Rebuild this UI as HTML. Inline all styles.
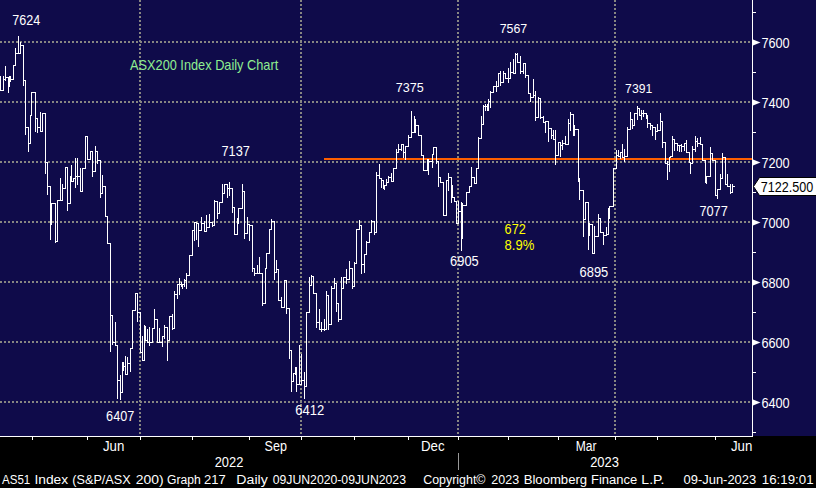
<!DOCTYPE html>
<html><head><meta charset="utf-8">
<style>
html,body{margin:0;padding:0;background:#000;width:816px;height:488px;overflow:hidden}
svg{display:block}
text{font-family:"Liberation Sans",sans-serif}
</style></head><body>
<svg width="816" height="488" viewBox="0 0 816 488">
<rect x="0" y="0" width="816" height="488" fill="#000"/>
<rect x="0" y="0" width="816" height="436" fill="#0f0b4a"/>
<g shape-rendering="crispEdges">
<line x1="0" y1="42" x2="752" y2="42" stroke="#878682" stroke-width="2" stroke-dasharray="2 2"/>
<line x1="0" y1="102" x2="752" y2="102" stroke="#878682" stroke-width="2" stroke-dasharray="2 2"/>
<line x1="0" y1="162" x2="752" y2="162" stroke="#878682" stroke-width="2" stroke-dasharray="2 2"/>
<line x1="0" y1="222" x2="752" y2="222" stroke="#878682" stroke-width="2" stroke-dasharray="2 2"/>
<line x1="0" y1="282" x2="752" y2="282" stroke="#878682" stroke-width="2" stroke-dasharray="2 2"/>
<line x1="0" y1="342" x2="752" y2="342" stroke="#878682" stroke-width="2" stroke-dasharray="2 2"/>
<line x1="0" y1="402" x2="752" y2="402" stroke="#878682" stroke-width="2" stroke-dasharray="2 2"/>
<line x1="140" y1="0" x2="140" y2="436" stroke="#878682" stroke-width="2" stroke-dasharray="2 2"/>
<line x1="301" y1="0" x2="301" y2="436" stroke="#878682" stroke-width="2" stroke-dasharray="2 2"/>
<line x1="458" y1="0" x2="458" y2="436" stroke="#878682" stroke-width="2" stroke-dasharray="2 2"/>
<line x1="615" y1="0" x2="615" y2="436" stroke="#878682" stroke-width="2" stroke-dasharray="2 2"/>
</g>
<rect x="324" y="158" width="428" height="2" fill="#ff5f00"/>
<path d="M0.5 75.5V90.5H3.5V75.5V79.5H5.5V65.5V80.5V77.5H8.5V92.5V86.5H9.5V76.5H10.5V81.5V79.5H13.5V64.5V65.5H15.5V47.5V53.5H18.5V35.5V53.5H20.5V41.5V45.5H23.5V85.5V80.5H25.5V134.5V127.5H28.5V151.5V143.5H30.5V115.5H31.5V92.5H35.5V131.5V118.5H37.5V132.5V127.5H40.5V111.5V131.5H42.5V113.5H45.5V173.5V162.5H47.5V194.5V186.5H50.5V239.5V207.5H51.5V224.5V203.5H55.5V242.5V241.5H57.5V200.5H60.5V177.5V200.5H62.5V183.5V194.5V188.5H65.5V167.5H67.5V210.5V203.5H70.5V176.5H71.5V164.5V181.5H73.5V178.5H75.5V187.5V173.5H75.5V157.5V184.5V176.5H77.5V157.5V184.5V176.5H80.5V167.5V191.5H82.5V168.5H85.5V136.5H87.5V159.5H90.5V151.5H92.5V176.5V171.5H95.5V145.5V151.5H97.5V163.5V160.5H100.5V197.5V193.5H102.5V174.5V186.5H105.5V216.5H107.5V243.5H110.5V351.5V315.5H112.5V344.5V342.5H115.5V321.5V345.5H117.5V398.5V380.5H120.5V374.5V399.5V392.5H122.5V362.5H123.5V370.5V366.5H125.5V355.5V374.5H127.5V356.5V374.5V363.5H130.5V348.5V371.5V348.5H132.5V310.5H135.5V293.5H137.5V321.5V312.5H140.5V352.5H142.5V335.5V360.5H144.5V324.5V340.5H145.5V325.5V340.5H147.5V328.5V342.5H149.5V326.5V345.5V342.5H152.5V328.5H154.5V308.5V319.5H157.5V342.5H159.5V327.5V342.5H162.5V346.5V336.5H164.5V324.5V338.5V327.5H167.5V360.5V340.5H169.5V316.5H172.5V313.5V329.5V328.5H174.5V290.5V294.5H177.5V284.5V298.5V284.5H179.5V277.5V294.5V284.5H181.5V281.5V286.5H182.5V284.5V288.5V284.5H184.5V278.5V286.5V280.5H186.5V272.5V288.5V275.5H189.5V255.5H192.5V230.5H194.5V240.5V222.5H196.5V239.5V223.5H198.5V246.5V230.5H201.5V216.5V223.5H204.5V220.5V231.5H206.5V214.5V227.5H209.5V213.5V222.5H212.5V226.5V225.5H214.5V199.5V201.5H217.5V218.5V213.5H219.5V202.5H222.5V183.5V193.5H224.5V183.5V184.5H227.5V197.5V188.5H229.5V181.5V195.5V188.5H232.5V212.5V207.5H234.5V234.5H237.5V218.5H238.5V223.5V208.5H242.5V183.5V191.5H244.5V238.5V233.5H247.5V216.5V224.5H249.5V240.5V225.5H252.5V271.5V268.5H254.5V275.5V273.5H257.5V264.5V273.5H259.5V256.5V273.5H262.5V305.5V303.5H265.5V268.5H266.5V253.5H269.5V229.5H271.5V218.5V221.5H274.5V279.5V272.5H276.5V259.5V269.5H278.5V300.5H281.5V296.5V307.5H284.5V280.5H286.5V313.5V308.5H289.5V358.5V350.5H291.5V391.5V381.5H293.5V373.5H295.5V374.5V367.5H296.5V391.5V384.5H299.5V344.5V384.5H301.5V353.5V380.5H304.5V371.5V398.5V386.5H306.5V312.5H309.5V276.5V285.5H311.5V274.5V285.5V276.5H313.5V293.5H316.5V327.5V322.5H319.5V308.5V329.5H321.5V321.5V331.5V329.5H324.5V318.5V330.5V329.5H326.5V290.5V295.5H328.5V329.5V324.5H331.5V285.5V288.5H334.5V277.5V283.5H336.5V311.5V303.5H338.5V321.5V319.5H341.5V276.5V288.5H343.5V276.5V277.5H346.5V268.5V283.5V279.5H349.5V260.5V268.5H352.5V288.5V286.5H354.5V261.5V263.5H356.5V229.5H359.5V219.5V225.5H361.5V273.5V264.5H364.5V272.5V254.5H366.5V240.5V248.5V242.5H369.5V232.5V242.5V232.5H371.5V219.5V221.5H374.5V234.5V232.5H376.5V171.5V175.5H379.5V163.5V178.5H381.5V187.5V180.5H383.5V188.5H384.5V189.5V185.5H386.5V178.5V182.5H388.5V175.5V177.5H391.5V172.5V181.5H393.5V168.5H396.5V148.5V152.5H398.5V143.5V149.5H401.5V150.5V144.5H403.5V157.5V152.5H405.5V159.5V146.5H408.5V134.5V137.5H411.5V110.5V132.5H414.5V115.5V132.5H415.5V118.5V125.5H418.5V135.5H421.5V155.5H423.5V170.5H427.5V159.5H428.5V174.5V161.5H432.5V167.5V154.5H433.5V147.5H436.5V163.5V161.5H438.5V186.5V177.5H440.5V182.5H443.5V215.5H446.5V180.5H448.5V172.5V190.5V177.5H451.5V202.5V185.5H452.5V195.5V197.5H454.5V201.5H456.5V223.5H458.5V200.5V219.5V211.5H461.5V201.5V250.5V238.5H462.5V202.5V205.5H466.5V192.5H469.5V186.5H471.5V166.5V177.5H474.5V183.5H476.5V168.5H478.5V161.5V136.5V138.5H481.5V115.5V124.5H483.5V104.5V110.5V106.5H485.5V103.5V110.5V106.5H487.5V103.5V110.5H488.5V98.5V101.5H490.5V90.5V107.5V92.5H493.5V85.5V86.5H496.5V80.5V91.5V86.5H498.5V73.5V73.5H500.5V70.5V85.5V82.5H503.5V70.5V73.5H505.5V78.5H508.5V67.5V82.5V78.5H510.5V61.5V72.5H513.5V58.5V73.5H515.5V52.5V54.5H517.5V52.5V62.5H520.5V55.5V73.5V71.5H523.5V62.5V73.5V63.5H525.5V77.5V75.5H528.5V93.5H530.5V101.5V97.5H533.5V78.5V95.5H535.5V90.5V120.5V117.5H538.5V96.5V98.5H540.5V118.5V117.5H543.5V115.5V122.5H545.5V120.5V132.5V121.5H548.5V141.5V128.5H551.5V138.5V135.5H553.5V129.5V139.5H555.5V129.5V164.5V155.5H558.5V141.5V142.5H560.5V141.5V156.5V145.5H562.5V139.5V149.5V143.5H565.5V135.5V144.5H568.5V118.5V123.5H570.5V111.5V130.5V114.5H573.5V135.5H574.5V124.5V129.5H578.5V181.5H579.5V177.5V199.5V190.5H583.5V236.5V219.5H585.5V202.5H588.5V249.5V223.5H589.5V235.5V224.5H592.5V253.5H594.5V225.5V236.5H598.5V213.5V218.5H600.5V232.5H603.5V244.5V235.5H606.5V226.5V234.5H608.5V208.5H609.5V218.5V207.5V206.5H613.5V185.5V168.5H616.5V149.5V155.5H618.5V149.5V156.5H620.5V151.5V158.5V152.5H622.5V143.5V157.5H624.5V148.5V161.5V156.5H627.5V126.5V129.5H630.5V111.5V119.5H632.5V128.5V125.5H634.5V113.5H637.5V105.5V119.5V108.5H639.5V115.5H641.5V109.5V119.5V113.5H643.5V109.5V116.5V113.5H646.5V118.5V115.5H647.5V127.5V123.5H650.5V129.5V125.5H652.5V135.5V127.5H655.5V139.5V131.5H657.5V123.5V130.5H660.5V112.5V121.5H662.5V147.5V142.5H665.5V162.5V163.5H667.5V160.5V179.5V164.5H669.5V162.5V171.5V157.5H670.5V156.5H672.5V135.5V139.5H674.5V150.5V143.5H677.5V150.5V145.5H679.5V151.5V145.5H681.5V143.5V151.5V146.5H684.5V144.5V150.5V143.5H686.5V139.5V152.5H689.5V162.5H690.5V173.5V163.5H692.5V145.5V149.5H695.5V135.5V151.5V141.5H697.5V137.5V146.5V143.5H700.5V136.5V144.5H702.5V160.5H705.5V182.5V176.5H706.5V183.5V176.5H710.5V146.5V153.5H712.5V158.5V160.5H715.5V195.5H717.5V198.5V189.5H720.5V173.5V178.5H722.5V152.5V157.5H725.5V184.5H727.5V173.5V186.5H730.5V183.5V193.5V192.5H732.5V183.5V186.5H734.5V186.5" fill="none" stroke="#fff" stroke-width="1" shape-rendering="crispEdges"/>
<rect x="752" y="0" width="1" height="437" fill="#fff"/>
<rect x="0" y="436" width="753" height="1" fill="#fff"/>
<polygon points="753,39.5 760.5,42.5 753,45.5" fill="#fff"/>
<polygon points="753,99.5 760.5,102.5 753,105.5" fill="#fff"/>
<polygon points="753,159.5 760.5,162.5 753,165.5" fill="#fff"/>
<polygon points="753,219.5 760.5,222.5 753,225.5" fill="#fff"/>
<polygon points="753,279.5 760.5,282.5 753,285.5" fill="#fff"/>
<polygon points="753,339.5 760.5,342.5 753,345.5" fill="#fff"/>
<polygon points="753,399.5 760.5,402.5 753,405.5" fill="#fff"/>
<rect x="753" y="12" width="3" height="1" fill="#fff"/>
<rect x="753" y="72" width="3" height="1" fill="#fff"/>
<rect x="753" y="132" width="3" height="1" fill="#fff"/>
<rect x="753" y="192" width="3" height="1" fill="#fff"/>
<rect x="753" y="252" width="3" height="1" fill="#fff"/>
<rect x="753" y="312" width="3" height="1" fill="#fff"/>
<rect x="753" y="372" width="3" height="1" fill="#fff"/>
<rect x="753" y="432" width="3" height="1" fill="#fff"/>
<rect x="32" y="437" width="1" height="3" fill="#fff"/>
<rect x="87" y="437" width="1" height="3" fill="#fff"/>
<rect x="140" y="437" width="1" height="3" fill="#fff"/>
<rect x="192" y="437" width="1" height="3" fill="#fff"/>
<rect x="249" y="437" width="1" height="3" fill="#fff"/>
<rect x="301" y="437" width="1" height="3" fill="#fff"/>
<rect x="354" y="437" width="1" height="3" fill="#fff"/>
<rect x="408" y="437" width="1" height="3" fill="#fff"/>
<rect x="458" y="437" width="1" height="3" fill="#fff"/>
<rect x="508" y="437" width="1" height="3" fill="#fff"/>
<rect x="558" y="437" width="1" height="3" fill="#fff"/>
<rect x="615" y="437" width="1" height="3" fill="#fff"/>
<rect x="657" y="437" width="1" height="3" fill="#fff"/>
<rect x="715" y="437" width="1" height="3" fill="#fff"/>
<rect x="458" y="453" width="1" height="17" fill="#999"/>
<polygon points="753.5,186.5 759.5,177.5 822,177.5 822,195.5 759.5,195.5" fill="#fff" stroke="#000" stroke-width="1"/>
<text x="130.00" y="70.20" textLength="148.27" lengthAdjust="spacingAndGlyphs" style="font-size:14.17px;fill:#90ee90">ASX200 Index Daily Chart</text>
<text x="12.29" y="24.90" textLength="27.99" lengthAdjust="spacingAndGlyphs" style="font-size:13.89px;fill:#fff">7624</text>
<text x="221.48" y="156.00" textLength="28.40" lengthAdjust="spacingAndGlyphs" style="font-size:13.89px;fill:#fff">7137</text>
<text x="395.78" y="91.50" textLength="27.98" lengthAdjust="spacingAndGlyphs" style="font-size:13.61px;fill:#fff">7375</text>
<text x="499.69" y="33.00" textLength="27.57" lengthAdjust="spacingAndGlyphs" style="font-size:13.61px;fill:#fff">7567</text>
<text x="625.10" y="93.10" textLength="27.15" lengthAdjust="spacingAndGlyphs" style="font-size:13.61px;fill:#fff">7391</text>
<text x="106.09" y="421.00" textLength="28.20" lengthAdjust="spacingAndGlyphs" style="font-size:13.89px;fill:#fff">6407</text>
<text x="295.27" y="415.00" textLength="29.00" lengthAdjust="spacingAndGlyphs" style="font-size:14.03px;fill:#fff">6412</text>
<text x="450.11" y="266.30" textLength="28.60" lengthAdjust="spacingAndGlyphs" style="font-size:14.44px;fill:#fff">6905</text>
<text x="579.56" y="276.80" textLength="28.69" lengthAdjust="spacingAndGlyphs" style="font-size:13.75px;fill:#fff">6895</text>
<text x="699.38" y="216.00" textLength="28.41" lengthAdjust="spacingAndGlyphs" style="font-size:13.89px;fill:#fff">7077</text>
<text x="504.59" y="234.30" textLength="21.16" lengthAdjust="spacingAndGlyphs" style="font-size:13.89px;fill:#ffff00">672</text>
<text x="504.60" y="250.20" textLength="29.73" lengthAdjust="spacingAndGlyphs" style="font-size:14.44px;fill:#ffff00">8.9%</text>
<text x="761.38" y="48.00" textLength="28.30" lengthAdjust="spacingAndGlyphs" style="font-size:13.89px;fill:#fff">7600</text>
<text x="761.38" y="108.00" textLength="28.30" lengthAdjust="spacingAndGlyphs" style="font-size:13.89px;fill:#fff">7400</text>
<text x="761.38" y="168.00" textLength="28.30" lengthAdjust="spacingAndGlyphs" style="font-size:13.89px;fill:#fff">7200</text>
<text x="761.38" y="228.00" textLength="28.30" lengthAdjust="spacingAndGlyphs" style="font-size:13.89px;fill:#fff">7000</text>
<text x="761.38" y="288.00" textLength="28.30" lengthAdjust="spacingAndGlyphs" style="font-size:13.89px;fill:#fff">6800</text>
<text x="761.38" y="348.00" textLength="28.30" lengthAdjust="spacingAndGlyphs" style="font-size:13.89px;fill:#fff">6600</text>
<text x="761.38" y="408.00" textLength="28.30" lengthAdjust="spacingAndGlyphs" style="font-size:13.89px;fill:#fff">6400</text>
<text x="760.84" y="192.00" textLength="52.44" lengthAdjust="spacingAndGlyphs" style="font-size:13.89px;fill:#000">7122.500</text>
<text x="103.00" y="451.25" textLength="21.36" lengthAdjust="spacingAndGlyphs" style="font-size:13.89px;fill:#fff">Jun</text>
<text x="264.60" y="451.00" textLength="22.29" lengthAdjust="spacingAndGlyphs" style="font-size:13.89px;fill:#fff">Sep</text>
<text x="421.04" y="451.00" textLength="23.61" lengthAdjust="spacingAndGlyphs" style="font-size:13.89px;fill:#fff">Dec</text>
<text x="575.63" y="451.00" textLength="20.79" lengthAdjust="spacingAndGlyphs" style="font-size:13.89px;fill:#fff">Mar</text>
<text x="731.00" y="451.25" textLength="21.36" lengthAdjust="spacingAndGlyphs" style="font-size:13.89px;fill:#fff">Jun</text>
<text x="214.66" y="467.00" textLength="28.66" lengthAdjust="spacingAndGlyphs" style="font-size:15.28px;fill:#fff">2022</text>
<text x="590.15" y="467.00" textLength="28.82" lengthAdjust="spacingAndGlyphs" style="font-size:15.28px;fill:#fff">2023</text>
<text x="2.00" y="484.00" textLength="28.25" lengthAdjust="spacingAndGlyphs" style="font-size:12.50px;fill:#fff">AS51</text>
<text x="34.40" y="484.00" textLength="33.76" lengthAdjust="spacingAndGlyphs" style="font-size:12.50px;fill:#fff">Index</text>
<text x="72.29" y="484.00" textLength="58.39" lengthAdjust="spacingAndGlyphs" style="font-size:12.50px;fill:#fff">(S&amp;P/ASX</text>
<text x="135.80" y="484.00" textLength="27.85" lengthAdjust="spacingAndGlyphs" style="font-size:12.50px;fill:#fff">200)</text>
<text x="167.00" y="484.00" textLength="33.73" lengthAdjust="spacingAndGlyphs" style="font-size:12.50px;fill:#fff">Graph</text>
<text x="204.00" y="484.00" textLength="21.65" lengthAdjust="spacingAndGlyphs" style="font-size:12.50px;fill:#fff">217</text>
<text x="236.37" y="484.00" textLength="31.40" lengthAdjust="spacingAndGlyphs" style="font-size:12.50px;fill:#fff">Daily</text>
<text x="272.70" y="484.00" textLength="133.30" lengthAdjust="spacingAndGlyphs" style="font-size:12.50px;fill:#fff">09JUN2020-09JUN2023</text>
<text x="423.21" y="484.00" textLength="62.31" lengthAdjust="spacingAndGlyphs" style="font-size:12.50px;fill:#fff">Copyright©</text>
<text x="491.30" y="484.00" textLength="27.81" lengthAdjust="spacingAndGlyphs" style="font-size:12.50px;fill:#fff">2023</text>
<text x="523.65" y="484.00" textLength="63.53" lengthAdjust="spacingAndGlyphs" style="font-size:12.50px;fill:#fff">Bloomberg</text>
<text x="590.96" y="484.00" textLength="46.24" lengthAdjust="spacingAndGlyphs" style="font-size:12.50px;fill:#fff">Finance</text>
<text x="641.38" y="484.00" textLength="23.12" lengthAdjust="spacingAndGlyphs" style="font-size:12.50px;fill:#fff">L.P.</text>
<text x="683.50" y="484.00" textLength="72.71" lengthAdjust="spacingAndGlyphs" style="font-size:12.50px;fill:#fff">09-Jun-2023</text>
<text x="761.84" y="484.00" textLength="51.78" lengthAdjust="spacingAndGlyphs" style="font-size:12.50px;fill:#fff">16:19:01</text>
</svg>
</body></html>
